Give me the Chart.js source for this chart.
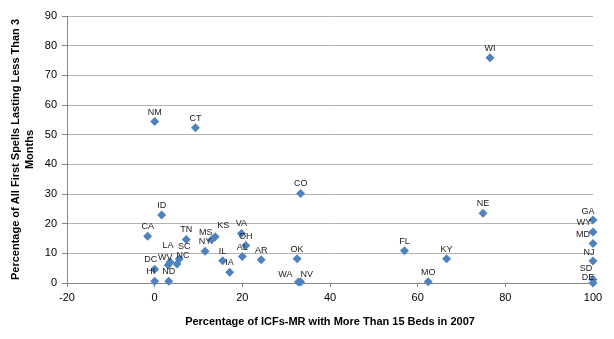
<!DOCTYPE html>
<html>
<head>
<meta charset="utf-8">
<script src="https://cdn.jsdelivr.net/npm/chart.js@4/dist/chart.umd.min.js"></script>
<style>
  body { margin: 0; background: #fff; }
  canvas { display: block; }
</style>
</head>
<body>
<canvas id="canvas" width="614" height="339"></canvas>
<script>
// chart values
const states = ['NM', 'CT', 'WI', 'CO', 'ID', 'CA', 'NE', 'GA', 'WY', 'MD', 'NJ', 'SD', 'DE',
  'TN', 'MS', 'KS', 'VA', 'OH', 'NY', 'AL', 'AR', 'IL', 'IA', 'OK', 'LA', 'WV', 'SC', 'NC',
  'DC', 'HI', 'ND', 'WA', 'NV', 'FL', 'KY', 'MO'];
const bedsPct = [0, 9.3, 76.5, 33.3, 1.6, -1.6, 74.9, 100, 100, 100, 100, 100, 100,
  7.2, 13.0, 13.8, 19.8, 20.8, 11.5, 20.0, 24.3, 15.5, 17.1, 32.5, 3.5, 3.1, 5.6, 5.1,
  0, 0, 3.2, 32.8, 33.3, 57.0, 66.6, 62.4];
const shortSpellPct = [54.4, 52.3, 75.9, 30.2, 22.9, 15.8, 23.5, 21.2, 17.2, 13.3, 7.4, 1.2, 0,
  14.7, 14.6, 15.6, 16.7, 12.6, 10.7, 8.9, 7.8, 7.5, 3.6, 8.2, 7.1, 6.1, 8.1, 6.4,
  4.6, 0.6, 0.6, 0.3, 0.3, 10.9, 8.2, 0.4];
const xTicks = [-20, 0, 20, 40, 60, 80, 100];
const yTicks = [0, 10, 20, 30, 40, 50, 60, 70, 80, 90];

// label nudges where the labels were moved apart in the original
const labelNudge = {
  MS: [-6, 2], KS: [8, -2], LA: [-2, -7], WV: [-3, 2], SC: [5, -3], NC: [6, 1],
  DC: [-4, 0], HI: [-4, 0], WA: [-13, 2], NV: [6, 2],
  GA: [-5, 1], WY: [-9, 0], MD: [-10, 0], NJ: [-4, 1], SD: [-7, -1], DE: [-5, 4]
};

const points = states.map((s, i) => ({ x: bedsPct[i], y: shortSpellPct[i] }));

const pointLabels = {
  id: 'pointLabels',
  afterDatasetsDraw(chart) {
    const ctx = chart.ctx;
    const meta = chart.getDatasetMeta(0);
    ctx.save();
    ctx.font = '9px "Liberation Sans", Arial, sans-serif';
    ctx.fillStyle = '#1a1a1a';
    ctx.textAlign = 'center';
    ctx.textBaseline = 'middle';
    meta.data.forEach((pt, i) => {
      const n = labelNudge[states[i]] || [0, 0];
      ctx.fillText(states[i], pt.x + n[0], pt.y - 9.5 + n[1]);
    });
    ctx.restore();
  }
};

const ctx = document.getElementById('canvas').getContext('2d');
const myChart = new Chart(ctx, {
  type: 'scatter',
  data: {
    datasets: [{
      data: points,
      clip: false,
      pointStyle: 'rectRot',
      pointRadius: 4.5,
      pointHoverRadius: 4.5,
      backgroundColor: '#4F81BD',
      borderColor: '#4F81BD',
      borderWidth: 0
    }]
  },
  options: {
    responsive: false,
    animation: false,
    devicePixelRatio: 1,
    layout: { padding: { top: 16, right: 21, bottom: 0, left: 0 } },
    plugins: {
      legend: { display: false },
      tooltip: { enabled: false }
    },
    scales: {
      x: {
        type: 'linear',
        min: xTicks[0],
        max: xTicks[xTicks.length - 1],
        afterBuildTicks: (axis) => { axis.ticks = xTicks.map(v => ({ value: v })); },
        afterFit: (axis) => { axis.height = 56; },
        ticks: {
          color: '#000',
          font: { family: '"Liberation Sans", Arial, sans-serif', size: 11 },
          padding: 4,
          maxRotation: 0
        },
        grid: { drawOnChartArea: false, drawTicks: true, tickLength: 4, tickColor: '#868686' },
        border: { display: true, color: '#868686' },
        title: {
          display: true,
          text: 'Percentage of ICFs-MR with More Than 15 Beds in 2007',
          color: '#000',
          font: { family: '"Liberation Sans", Arial, sans-serif', size: 11, weight: 'bold', lineHeight: 1.36 },
          padding: { top: 0, bottom: 10 }
        }
      },
      y: {
        type: 'linear',
        min: yTicks[0],
        max: yTicks[yTicks.length - 1],
        afterBuildTicks: (axis) => { axis.ticks = yTicks.map(v => ({ value: v })); },
        afterFit: (axis) => { axis.width = 67; },
        ticks: {
          color: '#000',
          font: { family: '"Liberation Sans", Arial, sans-serif', size: 11 },
          padding: 5
        },
        grid: { color: '#b3b3b3', tickLength: 5, tickColor: '#868686' },
        border: { display: true, color: '#868686' },
        title: {
          display: true,
          text: ['Percentage of All First Spells Lasting Less Than 3', 'Months'],
          color: '#000',
          font: { family: '"Liberation Sans", Arial, sans-serif', size: 11, weight: 'bold', lineHeight: 1.36 },
          padding: { top: 8, bottom: 0 }
        }
      }
    }
  },
  plugins: [pointLabels]
});
</script>
</body>
</html>
